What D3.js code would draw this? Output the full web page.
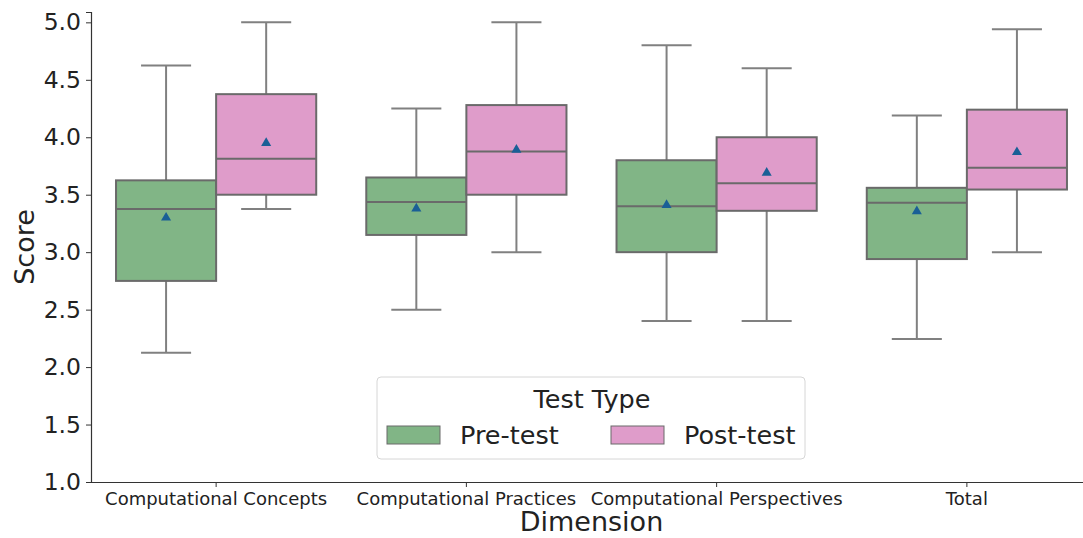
<!DOCTYPE html>
<html>
<head>
<meta charset="utf-8">
<script src="https://cdn.jsdelivr.net/npm/d3@7"></script>
<style>
  body { margin: 0; background: #fff; }
  svg text { font-family: "DejaVu Sans", sans-serif; fill: #222; }
</style>
</head>
<body>
<svg id="chart" width="1083" height="538"></svg>
<script>
// box plot stats
const categories = ["Computational Concepts", "Computational Practices", "Computational Perspectives", "Total"];
const testTypes = ["Pre-test", "Post-test"];
const yTicks = [1.0, 1.5, 2.0, 2.5, 3.0, 3.5, 4.0, 4.5, 5.0];

const preLow = [2.125, 2.5, 2.4, 2.245];
const preQ1 = [2.75, 3.15, 3.0, 2.94];
const preMedian = [3.375, 3.4375, 3.4, 3.43];
const preQ3 = [3.625, 3.65, 3.8, 3.56];
const preHigh = [4.625, 4.25, 4.8, 4.19];
const preMean = [3.30, 3.38, 3.41, 3.355];

const postLow = [3.375, 3.0, 2.4, 3.0];
const postQ1 = [3.5, 3.5, 3.36, 3.545];
const postMedian = [3.8125, 3.875, 3.6, 3.735];
const postQ3 = [4.375, 4.28, 4.0, 4.24];
const postHigh = [5.0, 5.0, 4.6, 4.94];
const postMean = [3.95, 3.89, 3.69, 3.87];

const colors = ["#81b586", "#df9cca"];

const margin = { top: 12, right: -9, bottom: 56, left: 91 };
const W = 1083, H = 538;
const width = W - margin.left - margin.right;
const height = H - margin.top - margin.bottom;

const svg = d3.select("#chart")
  .append("g")
  .attr("transform", `translate(${margin.left},${margin.top})`);

const x = d3.scaleBand().domain(categories).range([0, width]).padding(0);
const hue = d3.scaleBand().domain(testTypes).range([x.bandwidth() * 0.1, x.bandwidth() * 0.9]).padding(0);
const y = d3.scaleLinear().domain([1.0, 5.09]).range([height, 0]);

const boxes = [];
categories.forEach((c, i) => {
  boxes.push({ cat: c, type: "Pre-test", low: preLow[i], q1: preQ1[i], med: preMedian[i], q3: preQ3[i], high: preHigh[i], mean: preMean[i] });
  boxes.push({ cat: c, type: "Post-test", low: postLow[i], q1: postQ1[i], med: postMedian[i], q3: postQ3[i], high: postHigh[i], mean: postMean[i] });
});

const bw = hue.bandwidth();
const g = svg.selectAll(".box")
  .data(boxes)
  .enter().append("g")
  .attr("class", "box")
  .attr("transform", d => `translate(${x(d.cat) + hue(d.type)},0)`);

// whiskers
g.append("line")
  .attr("x1", bw / 2).attr("x2", bw / 2)
  .attr("y1", d => y(d.high)).attr("y2", d => y(d.q3))
  .attr("stroke", "#808080").attr("stroke-width", 2);
g.append("line")
  .attr("x1", bw / 2).attr("x2", bw / 2)
  .attr("y1", d => y(d.q1)).attr("y2", d => y(d.low))
  .attr("stroke", "#808080").attr("stroke-width", 2);
g.append("line")
  .attr("x1", bw / 4).attr("x2", bw * 3 / 4)
  .attr("y1", d => y(d.high)).attr("y2", d => y(d.high))
  .attr("stroke", "#808080").attr("stroke-width", 2);
g.append("line")
  .attr("x1", bw / 4).attr("x2", bw * 3 / 4)
  .attr("y1", d => y(d.low)).attr("y2", d => y(d.low))
  .attr("stroke", "#808080").attr("stroke-width", 2);

g.append("rect")
  .attr("x", 0)
  .attr("width", bw)
  .attr("y", d => y(d.q3))
  .attr("height", d => y(d.q1) - y(d.q3))
  .attr("fill", d => colors[testTypes.indexOf(d.type)])
  .attr("stroke", "#6a6a6a").attr("stroke-width", 2);

g.append("line")
  .attr("x1", 0).attr("x2", bw)
  .attr("y1", d => y(d.med)).attr("y2", d => y(d.med))
  .attr("stroke", "#6a6a6a").attr("stroke-width", 2);

g.append("path")
  .attr("d", d3.symbol().type(d3.symbolTriangle).size(44))
  .attr("transform", d => `translate(${bw / 2},${y(d.mean)})`)
  .attr("fill", "#1a5f96");

// axes
const yAxis = svg.append("g")
  .call(d3.axisLeft(y).tickValues(yTicks).tickFormat(d3.format(".1f")).tickSize(5).tickPadding(5));
yAxis.selectAll("text").style("font-size", "23.5px");
yAxis.select(".domain").attr("stroke", "#333").attr("stroke-width", 1.2);
yAxis.selectAll(".tick line").attr("stroke", "#333");

const xAxis = svg.append("g")
  .attr("transform", `translate(0,${height})`)
  .call(d3.axisBottom(x).tickSize(5).tickSizeOuter(0).tickPadding(5));
xAxis.selectAll("text").style("font-size", "18px");
xAxis.select(".domain").attr("stroke", "#333").attr("stroke-width", 1.2);
xAxis.selectAll(".tick line").attr("stroke", "#333");

svg.append("text")
  .attr("x", width / 2)
  .attr("y", height + 49)
  .attr("text-anchor", "middle")
  .style("font-size", "27px")
  .text("Dimension");

svg.append("text")
  .attr("transform", `translate(${-57},${height / 2}) rotate(-90)`)
  .attr("text-anchor", "middle")
  .style("font-size", "27px")
  .text("Score");

// legend
const leg = d3.select("#chart").append("g").attr("transform", "translate(377,377)");
leg.append("rect")
  .attr("width", 428).attr("height", 82).attr("rx", 4)
  .attr("fill", "#fff").attr("fill-opacity", 0.8)
  .attr("stroke", "#d6d6d6");
leg.append("text")
  .attr("x", 215).attr("y", 31)
  .attr("text-anchor", "middle")
  .style("font-size", "25.5px")
  .text("Test Type");
const item = leg.selectAll(".item")
  .data(testTypes)
  .enter().append("g")
  .attr("class", "item")
  .attr("transform", (d, i) => `translate(${10 + i * 224},49)`);
item.append("rect")
  .attr("width", 53).attr("height", 18)
  .attr("fill", (d, i) => colors[i])
  .attr("stroke", "#6a6a6a").attr("stroke-width", 1);
item.append("text")
  .attr("x", 73).attr("y", 18)
  .style("font-size", "25.5px")
  .text(d => d);
</script>
</body>
</html>
